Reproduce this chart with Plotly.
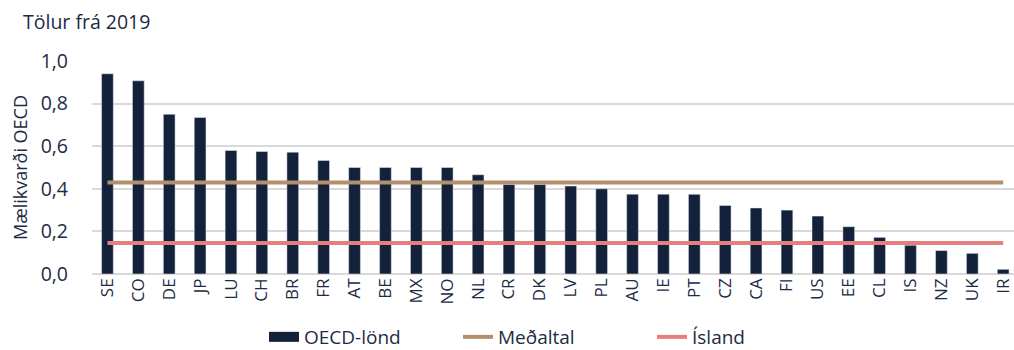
import plotly.graph_objects as go

# OECD index values, 2019
countries = ["SE", "CO", "DE", "JP", "LU", "CH", "BR", "FR", "AT", "BE",
             "MX", "NO", "NL", "CR", "DK", "LV", "PL", "AU", "IE", "PT",
             "CZ", "CA", "FI", "US", "EE", "CL", "IS", "NZ", "UK", "IR"]
values = [0.94, 0.907, 0.75, 0.735, 0.58, 0.575, 0.572, 0.533, 0.50, 0.50,
          0.50, 0.50, 0.466, 0.42, 0.42, 0.413, 0.40, 0.375, 0.375, 0.374,
          0.322, 0.31, 0.30, 0.272, 0.222, 0.172, 0.135, 0.11, 0.097, 0.022]
mean_value = 0.43
iceland_value = 0.145

NAVY = "#13223a"
TAN = "#b38f6e"
PINK = "#e57e7e"
TEXT = "#1d2b45"
GRID = "#d9d9d9"
FONT = "'Open Sans', sans-serif"

L, T, B = 92, 61, 75.5
W, H = 1014, 350
plot_w = W - L
plot_h = H - T - B

fig = go.Figure()

fig.add_trace(go.Bar(
    x=countries, y=values, marker_color=NAVY, width=0.38,
    name="OECD-lönd", showlegend=False,
))
# legend entry for the bars, drawn as a thick swatch
fig.add_trace(go.Scatter(
    x=[None], y=[None], mode="lines", name="OECD-lönd",
    line=dict(color=NAVY, width=10),
))
fig.add_trace(go.Scatter(
    x=countries, y=[mean_value] * len(countries), mode="lines",
    name="Meðaltal", line=dict(color=TAN, width=4),
))
fig.add_trace(go.Scatter(
    x=countries, y=[iceland_value] * len(countries), mode="lines",
    name="Ísland", line=dict(color=PINK, width=4),
))

fig.update_layout(
    width=W, height=H,
    margin=dict(l=L, r=0, t=T, b=B, autoexpand=False),
    paper_bgcolor="white", plot_bgcolor="white",
    separators=",.",
    font=dict(family=FONT, color=TEXT, size=18),
    showlegend=True,
    legend=dict(
        orientation="h", x=(264 - L) / plot_w, xanchor="left",
        yref="container", y=(H - 337) / H, yanchor="middle",
        font=dict(size=19, color=TEXT), entrywidth=149, entrywidthmode="pixels",
    ),
    annotations=[
        dict(text="Tölur frá 2019", xref="paper", yref="paper",
             x=(21 - L) / plot_w, y=1 + (T - 21) / plot_h,
             showarrow=False, font=dict(size=19.5, color=TEXT),
             xanchor="left", yanchor="middle"),
    ],
)

fig.update_xaxes(
    type="category", range=[-0.5, 29.35], showgrid=False, automargin=False,
    tickangle=-90, tickfont=dict(size=17, color=TEXT),
    showline=False, ticks="",
)
fig.update_yaxes(
    range=[0, 1.0], dtick=0.2, tickformat=".1f", automargin=False,
    showgrid=True, gridcolor=GRID, gridwidth=1.5,
    zeroline=True, zerolinecolor=GRID, zerolinewidth=1.5,
    tickfont=dict(size=19.5, color=TEXT), ticklabelstandoff=23,
    title=dict(text="Mælikvarði OECD", font=dict(size=18, color=TEXT), standoff=8),
)

fig.write_html("out.html")
